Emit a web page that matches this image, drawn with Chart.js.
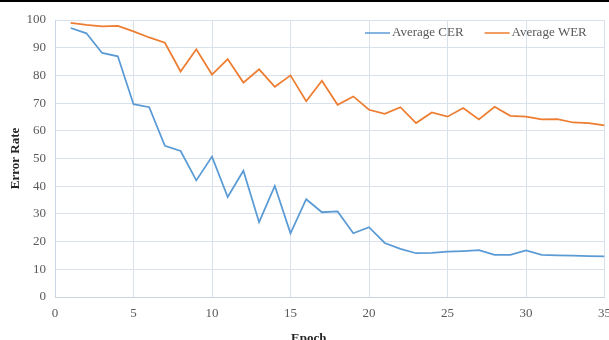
<!DOCTYPE html>
<html>
<head>
<meta charset="utf-8">
<script src="https://cdn.jsdelivr.net/npm/chart.js@4.4.1/dist/chart.umd.min.js"></script>
<style>
  html, body { margin: 0; padding: 0; background: #fff; overflow: hidden; width: 609px; height: 340px; }
  #topbar { position: absolute; left: 0; top: 0; width: 609px; height: 2px; background: #000; z-index: 2; }
  #wrap { position: absolute; left: 0; top: 0; width: 620px; height: 346px; }
</style>
</head>
<body>
<div id="topbar"></div>
<div id="wrap"><canvas id="c" width="620" height="346"></canvas></div>
<script>
const epochs = [1,2,3,4,5,6,7,8,9,10,11,12,13,14,15,16,17,18,19,20,21,22,23,24,25,26,27,28,29,30,31,32,33,34,35];
const cerValues = [97.1,95.2,88.1,86.9,69.6,68.5,54.6,52.7,42.1,50.7,36.1,45.6,27.0,40.1,23.0,35.3,30.6,30.9,23.0,25.2,19.5,17.4,15.8,15.9,16.4,16.6,16.9,15.2,15.2,16.8,15.2,15.0,14.9,14.8,14.7];
const werValues = [99.0,98.2,97.7,97.9,95.9,93.7,91.8,81.4,89.4,80.3,85.9,77.4,82.2,75.9,80.0,70.7,78.1,69.4,72.4,67.6,66.1,68.5,62.8,66.6,65.1,68.2,64.1,68.7,65.4,65.1,64.1,64.2,63.0,62.8,62.0];
const seriesLabels = ['Average CER', 'Average WER'];
const seriesColors = ['#5b9bd5', '#ed7d31'];
const xTicks = [0,5,10,15,20,25,30,35];
const yTicks = [0,10,20,30,40,50,60,70,80,90,100];

const FONT = '"Liberation Serif", "Times New Roman", serif';
const gridColor = '#d9e1ec';

const legendPlugin = {
  id: 'innerLegend',
  afterLayout(chart) {
    const s = chart.scales.x;
    if (s && !s._titleShifted) {
      const orig = s.drawTitle;
      s.drawTitle = function () {
        const r = this.right;
        this.right = r - 42;
        orig.call(this);
        this.right = r;
      };
      s._titleShifted = true;
    }
  },
  afterDraw(chart) {
    const ctx = chart.ctx;
    const area = chart.chartArea;
    ctx.save();
    ctx.font = '13px ' + FONT;
    ctx.textBaseline = 'middle';
    const y = area.top + 13;
    let x = 365;
    chart.data.datasets.forEach((ds, i) => {
      ctx.strokeStyle = ds.borderColor;
      ctx.lineWidth = 1.5;
      ctx.beginPath();
      ctx.moveTo(x, y);
      ctx.lineTo(x + 25, y);
      ctx.stroke();
      ctx.fillStyle = '#595959';
      ctx.fillText(ds.label, x + 27, y);
      x += 27 + ctx.measureText(ds.label).width + 21;
    });
    ctx.restore();
  }
};

new Chart(document.getElementById('c'), {
  type: 'line',
  data: {
    datasets: [
      { label: seriesLabels[0], data: epochs.map((e, i) => ({x: e, y: cerValues[i]})), borderColor: seriesColors[0], backgroundColor: seriesColors[0], borderWidth: 1.75, pointRadius: 0, tension: 0 },
      { label: seriesLabels[1], data: epochs.map((e, i) => ({x: e, y: werValues[i]})), borderColor: seriesColors[1], backgroundColor: seriesColors[1], borderWidth: 1.75, pointRadius: 0, tension: 0 }
    ]
  },
  options: {
    responsive: false,
    animation: false,
    layout: { padding: { top: 20, right: 11, left: 0, bottom: 0 } },
    plugins: { legend: { display: false }, tooltip: { enabled: false } },
    scales: {
      x: {
        type: 'linear', min: 0, max: 35,
        afterBuildTicks: (s) => { s.ticks = xTicks.map(v => ({value: v})); },
        afterFit: (s) => { s.height = 49; },
        grid: { color: gridColor, drawTicks: false, lineWidth: 1 },
        border: { color: '#c9d5e3', width: 1 },
        ticks: { padding: 9, color: '#595959', font: { family: FONT, size: 13 }, maxRotation: 0 },
        title: { display: true, text: 'Epoch', color: '#262626', font: { family: FONT, size: 13, weight: 'bold' }, padding: { top: 4, bottom: 0 } }
      },
      y: {
        type: 'linear', min: 0, max: 100,
        afterBuildTicks: (s) => { s.ticks = yTicks.map(v => ({value: v})); },
        afterFit: (s) => { s.width = 55; },
        grid: { color: gridColor, drawTicks: false, lineWidth: 1 },
        border: { color: '#c9d5e3', width: 1 },
        ticks: { padding: 9, color: '#595959', font: { family: FONT, size: 13 } },
        title: { display: true, text: 'Error Rate', color: '#262626', font: { family: FONT, size: 13, weight: 'bold' }, padding: { top: 8, bottom: 0 } }
      }
    }
  },
  plugins: [legendPlugin]
});
</script>
</body>
</html>
